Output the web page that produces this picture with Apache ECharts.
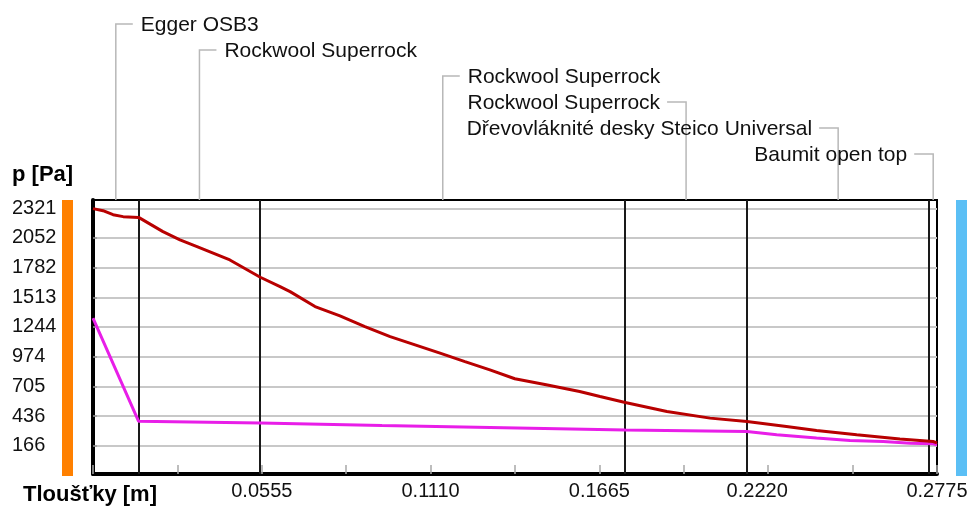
<!DOCTYPE html>
<html><head><meta charset="utf-8">
<script src="https://cdn.jsdelivr.net/npm/echarts@6/dist/echarts.min.js"></script>
<style>html,body{margin:0;padding:0;background:#fff}#c{width:971px;height:507px}</style>
</head><body><div id="c"></div>
<script>
// ---- data ----
const layerNames = ['Egger OSB3', 'Rockwool Superrock', 'Rockwool Superrock', 'Rockwool Superrock', 'Dřevovláknité desky Steico Universal', 'Baumit open top'];
const layerBounds = [0, 0.015, 0.055, 0.175, 0.215, 0.275, 0.2775];
const pSatX = [0, 0.0033, 0.0066, 0.0099, 0.015, 0.023, 0.0286, 0.0342, 0.045, 0.055, 0.0615, 0.0648, 0.073, 0.0812, 0.0894, 0.0977, 0.1059, 0.1141, 0.1223, 0.1305, 0.1387, 0.149, 0.160, 0.1667, 0.175, 0.1887, 0.2029, 0.215, 0.228, 0.2379, 0.2511, 0.2653, 0.2762, 0.2775];
const pSatY = [2318, 2299, 2263, 2245, 2238, 2109, 2034, 1973, 1852, 1695, 1610, 1565, 1429, 1345, 1248, 1157, 1082, 1006, 930, 855, 774, 719, 658, 613, 559, 477, 417, 386, 341, 305, 266, 227, 205, 193];
const pX = [0, 0.015, 0.055, 0.095, 0.135, 0.175, 0.215, 0.2248, 0.2379, 0.2489, 0.2598, 0.2687, 0.2762, 0.2775];
const pY = [1324, 388, 372, 350, 330, 310, 296, 266, 236, 214, 205, 190, 184, 175];
const yTickValues = [166, 436, 705, 974, 1244, 1513, 1782, 2052, 2321];
const xTickLabels = ['0.0555', '0.1110', '0.1665', '0.2220', '0.2775'];
const xTickStep = 0.02775;
const yTitle = 'p [Pa]';
const xTitle = 'Tloušťky [m]';

// ---- chart ----
const FONT = '"Liberation Sans", Arial, sans-serif';
const chart = echarts.init(document.getElementById('c'), null, {renderer: 'canvas'});
const pairs = (xs, ys) => xs.map((x, i) => [x, ys[i]]);
const mids = layerNames.map((n, i) => [(layerBounds[i] + layerBounds[i + 1]) / 2, 0]);
const inner = layerBounds.slice(1, -1).map(b => [b, 0]);
const xMax = layerBounds[layerBounds.length - 1];

chart.setOption({
  animation: false,
  backgroundColor: '#fff',
  grid: {left: 93, right: 34, top: 200, bottom: 33, show: true, borderColor: '#000', borderWidth: 2, backgroundColor: '#fff'},
  xAxis: {
    type: 'value', min: 0, max: xMax, interval: xTickStep,
    axisLine: {show: true, onZero: false, lineStyle: {color: '#000', width: 4}},
    axisTick: {show: true, inside: true, length: 9, lineStyle: {color: '#a8a8a8', width: 1.5}},
    splitLine: {show: false},
    axisLabel: {
      customValues: xTickLabels.map(Number),
      formatter: v => { const s = xTickLabels.find(t => Math.abs(Number(t) - v) < 1e-6) || ''; return s === '0.2220' ? '{s|' + s + '}' : s; },
      rich: {s: {padding: [0, 22, 0, 0], fontFamily: FONT, fontSize: 20, color: '#111'}},
      margin: 7, color: '#111', fontFamily: FONT, fontSize: 20
    }
  },
  yAxis: {
    type: 'value', min: -90, max: 2396,
    axisLine: {show: true, lineStyle: {color: '#000', width: 4}},
    axisTick: {show: true, inside: true, length: 4, customValues: yTickValues, lineStyle: {color: '#999', width: 1.5}},
    splitLine: {show: true, lineStyle: {color: '#c8c8c8', width: 2}},
    axisLabel: {customValues: yTickValues, align: 'left', margin: 81, color: '#111', fontFamily: FONT, fontSize: 20, padding: [8, 0, 0, 0], formatter: v => String(v)}
  },
  graphic: [
    {type: 'text', left: 12, top: 164, style: {text: yTitle, font: 'bold 22px ' + FONT, fill: '#000'}},
    {type: 'text', left: 23, top: 484, style: {text: xTitle, font: 'bold 22px ' + FONT, fill: '#000'}},
    {type: 'rect', left: 62, top: 200, shape: {width: 11, height: 276}, style: {fill: '#ff8000'}},
    {type: 'rect', left: 956, top: 200, shape: {width: 11, height: 276}, style: {fill: '#5bbff5'}}
  ],
  series: [
    {
      type: 'custom', name: 'layers', silent: true, z: 1,
      data: mids,
      renderItem: (params, api) => {
        const i = params.dataIndex;
        const x = api.coord([api.value(0), 0])[0];
        const top = params.coordSys.y;
        const rowY = 24 + i * 26;
        const right = i < 3;
        const x2 = right ? x + 17 : x - 19;
        return {
          type: 'group',
          children: [
            {type: 'polyline', shape: {points: [[x, top], [x, rowY], [x2, rowY]]}, style: {stroke: '#b8b8b8', lineWidth: 1.5, fill: null}},
            {type: 'text', style: {text: layerNames[i], x: right ? x + 25 : x - 26, y: rowY + 1, align: right ? 'left' : 'right', verticalAlign: 'middle', font: '21px ' + FONT, fill: '#111'}}
          ]
        };
      }
    },
    {
      type: 'custom', name: 'bounds', silent: true, z: 2,
      data: inner,
      renderItem: (params, api) => {
        const x = Math.round(api.coord([api.value(0), 0])[0]);
        const cs = params.coordSys;
        return {type: 'line', shape: {x1: x, y1: cs.y, x2: x, y2: cs.y + cs.height}, style: {stroke: '#1a1a1a', lineWidth: 2}};
      }
    },
    {
      type: 'line', name: 'psat', data: pairs(pSatX, pSatY), showSymbol: false, symbol: 'none', z: 4,
      lineStyle: {color: '#b80000', width: 3}
    },
    {
      type: 'line', name: 'p', data: pairs(pX, pY), showSymbol: false, symbol: 'none', z: 3,
      lineStyle: {color: '#e81ee8', width: 3}
    }
  ]
});
</script>
</body></html>
